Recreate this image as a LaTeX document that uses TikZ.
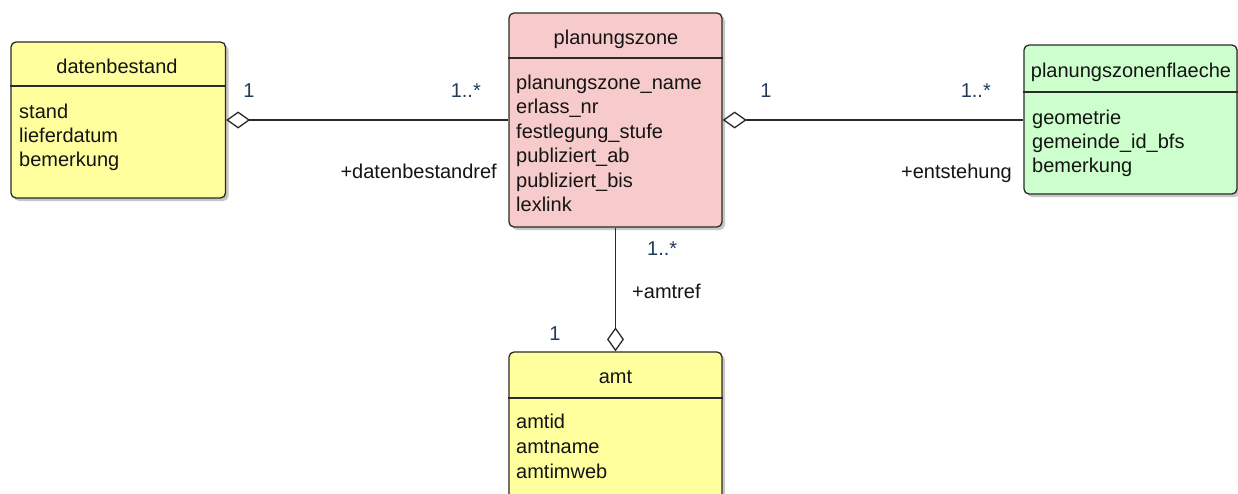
\documentclass[tikz,border=0pt]{standalone}
\usepackage{fontspec}
\setmainfont{Liberation Sans}
\usetikzlibrary{arrows.meta,shadows}
\definecolor{yel}{HTML}{FFFF9E}
\definecolor{pnk}{HTML}{F7CBCB}
\definecolor{grn}{HTML}{CCFFCC}
\definecolor{edgec}{HTML}{2A2A2A}
\definecolor{txt}{HTML}{141414}
\definecolor{mult}{HTML}{223A5E}
\begin{document}
\begin{tikzpicture}[x=1pt,y=-1pt,
  every node/.style={font=\fontsize{20}{25}\selectfont, inner sep=0pt, text=txt},
  cls/.style={draw=edgec, line width=1.3pt, rounded corners=5pt,
    drop shadow={shadow xshift=3pt, shadow yshift=-3pt, opacity=0.22, fill=black}},
  sepline/.style={draw=edgec, line width=1.3pt},
  attr/.style={anchor=base west},
  head/.style={anchor=base},
  multl/.style={anchor=base, text=mult},
  role/.style={anchor=base east},
  assoc/.style={draw=edgec, line width=1.3pt, {Diamond[length=24pt, width=17pt, fill=white, line width=1.3pt]}-}
]
\useasboundingbox (0,0) rectangle (1238,493);
\clip (0,0) rectangle (1238,493);

% classes
\node[cls, fill=yel, minimum width=214.5pt, minimum height=156pt] (db) at (118.25,120) {};
\node[cls, fill=pnk, minimum width=213pt, minimum height=214pt] (pz) at (615.5,120) {};
\node[cls, fill=grn, minimum width=213pt, minimum height=149pt] (pzf) at (1130.5,119.5) {};
\node[cls, fill=yel, minimum width=213pt, minimum height=170pt] (amt) at (615.5,437) {};

% separators
\draw[sepline] (db.west |- 0,86) -- (db.east |- 0,86);
\draw[sepline] (pz.west |- 0,58) -- (pz.east |- 0,58);
\draw[sepline] (pzf.west |- 0,92) -- (pzf.east |- 0,92);
\draw[sepline] (amt.west |- 0,398) -- (amt.east |- 0,398);

% headers
\node[head] (dbh) at (117,73) {datenbestand};
\node[head] (pzh) at (616,44) {planungszone};
\node[head] (pzfh) at (1131,77) {planungszonenflaeche};
\node[head] (amth) at (615.5,383) {amt};

% attributes
\node[attr] (db1) at (19,118) {stand};
\node[attr] (db2) at (19,142) {lieferdatum};
\node[attr] (db3) at (19,166) {bemerkung};

\node[attr] (pz1) at (516,89) {planungszone\_name};
\node[attr] (pz2) at (516,113.5) {erlass\_nr};
\node[attr] (pz3) at (516,138) {festlegung\_stufe};
\node[attr] (pz4) at (516,162.5) {publiziert\_ab};
\node[attr] (pz5) at (516,187) {publiziert\_bis};
\node[attr] (pz6) at (516,211.5) {lexlink};

\node[attr] (pzf1) at (1032,124) {geometrie};
\node[attr] (pzf2) at (1032,148) {gemeinde\_id\_bfs};
\node[attr] (pzf3) at (1032,172) {bemerkung};

\node[attr] (amt1) at (516,428) {amtid};
\node[attr] (amt2) at (516,453) {amtname};
\node[attr] (amt3) at (516,478) {amtimweb};

% associations
\draw[assoc] (db.east) -- (pz.west);
\draw[assoc] (pz.east) -- (pz.east -| pzf.west);
\draw[assoc] (amt.north) -- (pz.south);

% labels
\node[multl] (m1) at (249,97) {1};
\node[multl, anchor=base east] (m2) at (481,97) {1..*};
\node[role] (r1) at (497,178) {+datenbestandref};

\node[multl] (m3) at (766,97) {1};
\node[multl, anchor=base east] (m4) at (991,97) {1..*};
\node[role] (r2) at (1012,178) {+entstehung};

\node[multl, anchor=base west] (m5) at (647,255) {1..*};
\node[anchor=base west] (r3) at (632,298) {+amtref};
\node[multl] (m6) at (555,340) {1};
\end{tikzpicture}
\end{document}
